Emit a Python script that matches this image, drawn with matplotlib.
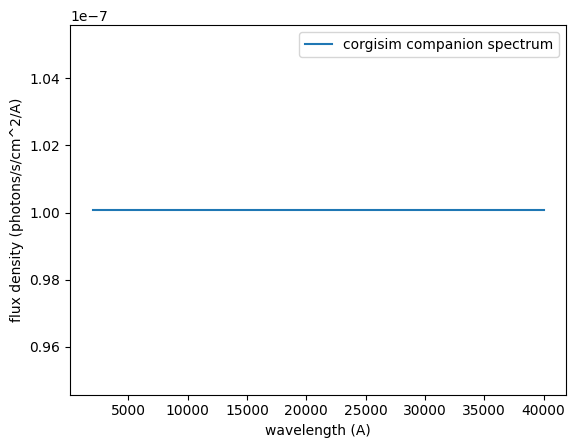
import numpy as np
import matplotlib
matplotlib.use("Agg")
import matplotlib.pyplot as plt

# companion spectrum (flat)
wavelength = [2000, 40000]
flux = [1.0008e-7, 1.0008e-7]

fig, ax = plt.subplots()
ax.plot(wavelength, flux, label='corgisim companion spectrum')
ax.set_xlabel('wavelength (A)')
ax.set_ylabel('flux density (photons/s/cm^2/A)')
ax.legend()
fig.savefig('out.png', dpi=100, bbox_inches='tight')
